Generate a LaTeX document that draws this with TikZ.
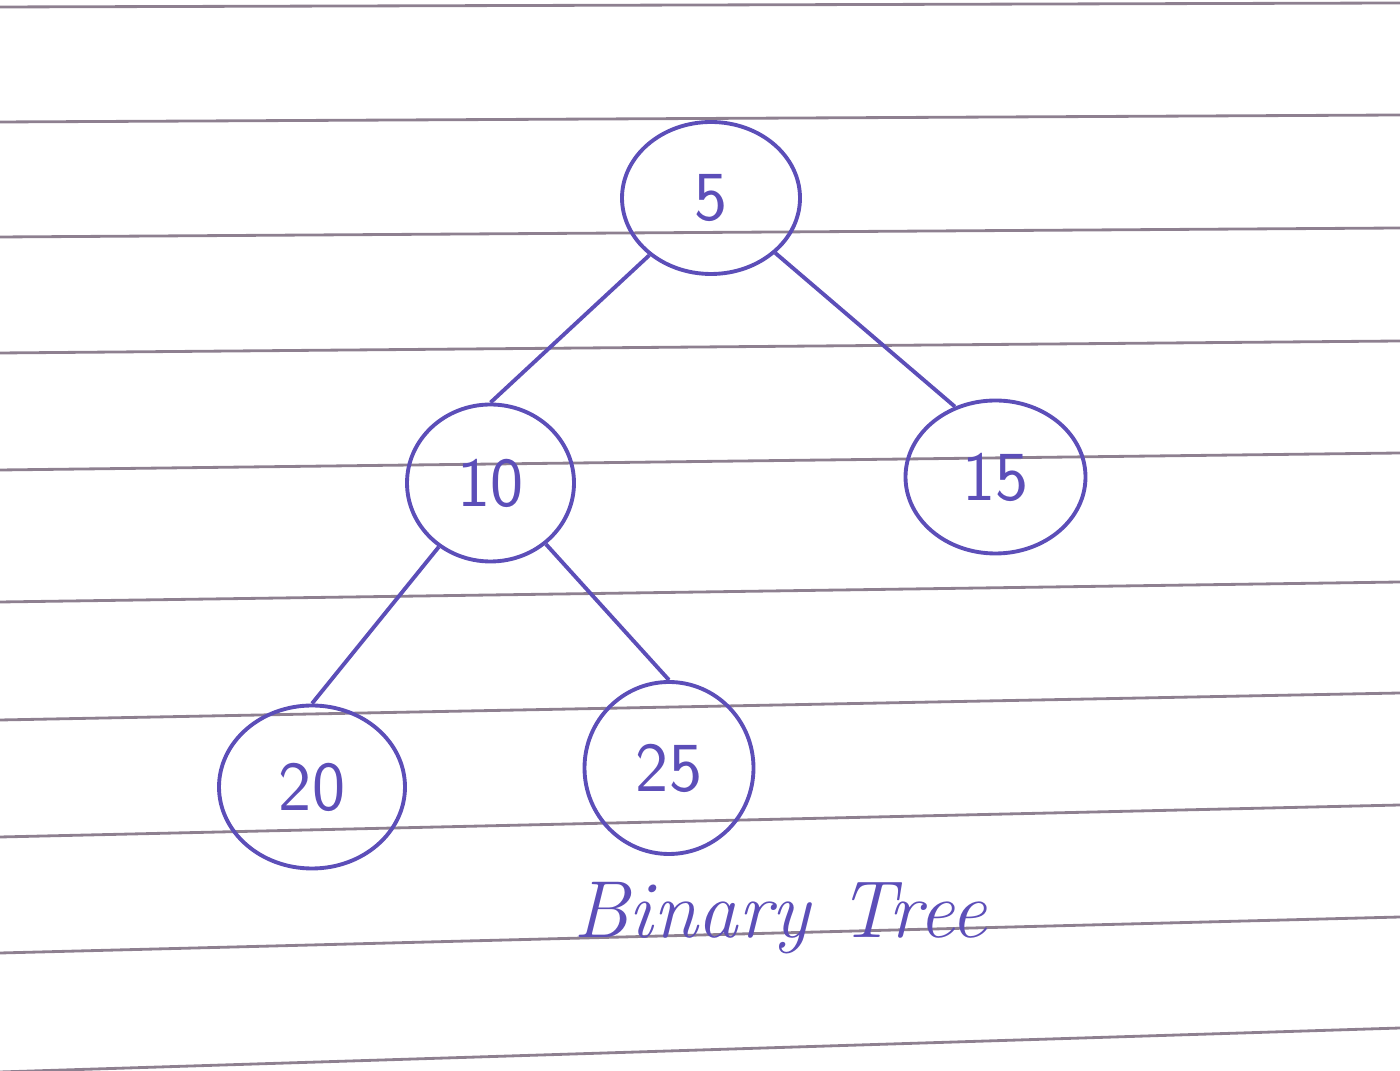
\documentclass[tikz,border=0pt]{standalone}
\usepackage{tikz}
\usetikzlibrary{shapes.geometric}
\definecolor{ink}{RGB}{92,78,184}
\definecolor{ruleline}{RGB}{142,128,144}
\tikzset{
    treenode/.style={ellipse, draw=ink, line width=1.1pt, text=ink, inner sep=0pt,
                     minimum width=1.75cm, minimum height=1.58cm,
                     font=\sffamily\fontsize{20}{24}\selectfont},
    ruling/.style={draw=ruleline, line width=0.8pt}
}

\begin{document}
\begin{tikzpicture}[level distance=2.85cm,
                    level 1/.style={sibling distance=5.05cm},
                    level 2/.style={sibling distance=3.57cm, level distance=2.93cm},
                    edge from parent/.style={draw=ink, line width=1.1pt},
                    edge from parent path={(\tikzparentnode) -- (\tikzchildnode.north)}]
    \useasboundingbox (0,0) rectangle (14,10.71);
    \foreach \yl/\yr in {10.64/10.68, 9.49/9.56, 8.34/8.43, 7.18/7.30, 6.01/6.18,
                         4.69/4.89, 3.51/3.78, 2.34/2.66, 1.18/1.54, -0.01/0.43}
        \draw[ruling] (0,\yl) -- (14,\yr);
    \node[treenode, minimum width=1.78cm, minimum height=1.52cm] (n5) at (7.11,8.73) {5}
        child {node[treenode, minimum width=1.67cm, minimum height=1.57cm, xshift=3.2mm] (n10) {10}
            child {node[treenode, minimum width=1.86cm, minimum height=1.63cm, yshift=-1.1mm] (n20) {20}}
            child {node[treenode, minimum width=1.69cm, minimum height=1.72cm, yshift=0.8mm] (n25) {25}}
        }
        child[edge from parent path={(\tikzparentnode) -- (\tikzchildnode.120)}] {node[treenode, minimum width=1.80cm, minimum height=1.53cm, xshift=3.2mm, yshift=0.6mm] (n15) {15}};
    \node[text=ink, anchor=base, font=\itshape\fontsize{23}{27}\selectfont] (title) at (7.80,1.33) {Binary Tree};
\end{tikzpicture}
\end{document}
